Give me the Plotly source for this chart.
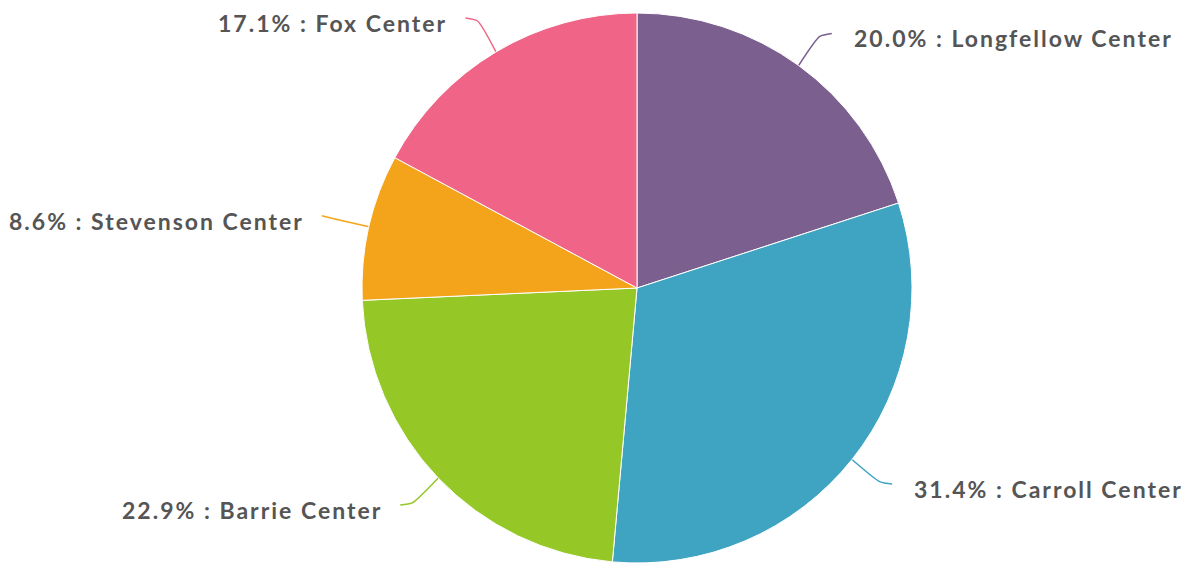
import math
import plotly.graph_objects as go

# ---- data ----
centers = ["Longfellow Center", "Carroll Center", "Barrie Center", "Stevenson Center", "Fox Center"]
counts = [7, 11, 8, 3, 6]
colors = ["#7b5f8e", "#3fa3c2", "#95c727", "#f4a41a", "#f06487"]

# ---- layout geometry (pixels) ----
W, H = 1190, 563
CX, CY, R = 637, 288, 275
ELBOW = 36      # radial connector length beyond the rim
HSEG = 12       # horizontal connector length
GAP_R = 20      # gap between connector end and text (right side)
GAP_L = 16      # gap (left side, letter-spacing adds trailing space)
LS = 2.0
TEXT_DY = 5

total = sum(counts)
pcts = [c / total * 100 for c in counts]

fig = go.Figure()
fig.add_trace(go.Pie(
    labels=centers, values=counts, sort=False, direction="clockwise", rotation=0,
    marker=dict(colors=colors, line=dict(color="white", width=1)),
    textinfo="none", hoverinfo="label+percent", showlegend=False,
    domain=dict(x=[(CX - R) / W, (CX + R) / W], y=[(H - CY - R) / H, (H - CY + R) / H]),
))

annotations = []
cum = 0.0
for name, p, col in zip(centers, pcts, colors):
    mid = (cum + p / 2) / 100 * 2 * math.pi
    cum += p
    s, c = math.sin(mid), -math.cos(mid)
    x0, y0 = CX + R * s, CY + R * c
    x1, y1 = CX + (R + ELBOW) * s, CY + (R + ELBOW) * c
    side = 1 if s >= 0 else -1
    x2, y2 = x1 + side * HSEG, y1 + (-3 if c < 0 else 2)
    fig.add_trace(go.Scatter(
        x=[x0, x1, x2], y=[y0, y1, y2], mode="lines",
        line=dict(color=col, width=1.5, shape="spline", smoothing=0.6),
        hoverinfo="skip", showlegend=False, xaxis="x", yaxis="y",
    ))
    label = f"{p:.1f}% : {name}"
    gap = GAP_R if side > 0 else GAP_L
    annotations.append(dict(
        x=x2 + side * gap, y=y2 + TEXT_DY, xref="x", yref="y",
        text=f'<span style="letter-spacing:{LS}px">{label}</span>', showarrow=False,
        xanchor="left" if side > 0 else "right", yanchor="middle",
        font=dict(family="Lato", size=23, color="#555555", weight="bold"),
    ))

fig.update_layout(
    width=W, height=H, margin=dict(l=0, r=0, t=0, b=0),
    paper_bgcolor="white", plot_bgcolor="rgba(0,0,0,0)",
    xaxis=dict(range=[0, W], visible=False, fixedrange=True, domain=[0, 1]),
    yaxis=dict(range=[H, 0], visible=False, fixedrange=True, domain=[0, 1]),
    annotations=annotations,
)
fig.write_html("out.html")
